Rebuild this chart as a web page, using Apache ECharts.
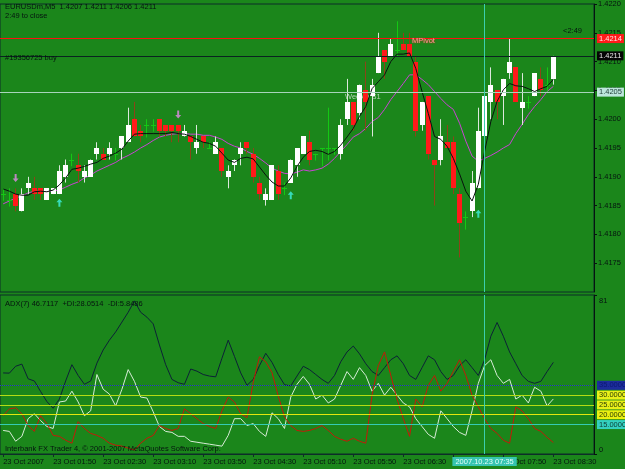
<!DOCTYPE html>
<html>
<head>
<meta charset="utf-8">
<style>
html, body { margin: 0; padding: 0; background: #1b861b; }
#chart { width: 625px; height: 469px; }
</style>
<script src="https://cdn.jsdelivr.net/npm/echarts@6.0.0/dist/echarts.min.js"></script>
</head>
<body>
<div id="chart"></div>
<script>
// EURUSDm M5 bars, 23 Oct 2007 (01:10 .. 08:30)
const openP = [1.4187, 1.4186, 1.4187, 1.4184, 1.4188, 1.4188, 1.4188, 1.4186, 1.4187, 1.4187,
  1.4190, 1.4193, 1.4192, 1.4190, 1.4190, 1.4194, 1.4194, 1.4194, 1.4194, 1.4195,
  1.4196, 1.4200, 1.4198, 1.4199, 1.4199, 1.4200, 1.4199, 1.4199, 1.4199, 1.4197,
  1.4197, 1.4195, 1.4197, 1.4195, 1.4194, 1.4195, 1.4190, 1.4192, 1.4194, 1.4196,
  1.4194, 1.4189, 1.4186, 1.4186, 1.4191, 1.4188, 1.4189, 1.4192, 1.4194, 1.4196,
  1.4194, 1.4195, 1.4195, 1.4195, 1.4194, 1.4200, 1.4203, 1.4201, 1.4205, 1.4204,
  1.4208, 1.4212, 1.4211, 1.4212, 1.4213, 1.4213, 1.4210, 1.4199, 1.4204, 1.4193,
  1.4193, 1.4196, 1.4196, 1.4187, 1.4183, 1.4184, 1.4188, 1.4197, 1.4203, 1.4205,
  1.4204, 1.4208, 1.4209, 1.4202, 1.4203, 1.4204, 1.4207, 1.4206, 1.4207];
const closeP = [1.4187, 1.4186, 1.4185, 1.4187, 1.4189, 1.4187, 1.4187, 1.4188, 1.4188, 1.4191,
  1.4192, 1.4193, 1.4191, 1.4191, 1.4193, 1.4195, 1.4193, 1.4195, 1.4194, 1.4197,
  1.4199, 1.4197, 1.4197, 1.4199, 1.4199, 1.4198, 1.4198, 1.4198, 1.4198, 1.4198,
  1.4196, 1.4196, 1.4196, 1.4195, 1.4196, 1.4191, 1.4191, 1.4193, 1.4195, 1.4195,
  1.4190, 1.4187, 1.4187, 1.4192, 1.4187, 1.4188, 1.4193, 1.4195, 1.4197, 1.4193,
  1.4194, 1.4195, 1.4195, 1.4195, 1.4199, 1.4203, 1.4199, 1.4206, 1.4203, 1.4206,
  1.4211, 1.4210, 1.4213, 1.4212, 1.4212, 1.4211, 1.4198, 1.4203, 1.4194, 1.4192,
  1.4197, 1.4195, 1.4188, 1.4182, 1.4183, 1.4189, 1.4198, 1.4204, 1.4206, 1.4203,
  1.4207, 1.4210, 1.4203, 1.4203, 1.4203, 1.4208, 1.4205, 1.4206, 1.4211];
const highP = [1.4188, 1.4188, 1.4188, 1.4188, 1.4190, 1.4190, 1.4188, 1.4188, 1.4188, 1.4192,
  1.4193, 1.4194, 1.4194, 1.4192, 1.4193, 1.4196, 1.4195, 1.4196, 1.4195, 1.4197,
  1.4202, 1.4203, 1.4199, 1.4200, 1.4200, 1.4200, 1.4199, 1.4199, 1.4199, 1.4199,
  1.4197, 1.4199, 1.4197, 1.4196, 1.4197, 1.4195, 1.4192, 1.4193, 1.4196, 1.4196,
  1.4195, 1.4190, 1.4188, 1.4192, 1.4192, 1.4189, 1.4193, 1.4195, 1.4197, 1.4198,
  1.4194, 1.4195, 1.4202, 1.4195, 1.4200, 1.4207, 1.4203, 1.4206, 1.4210, 1.4207,
  1.4215, 1.4212, 1.4214, 1.4217, 1.4215, 1.4215, 1.4211, 1.4203, 1.4204, 1.4193,
  1.4200, 1.4199, 1.4197, 1.4188, 1.4184, 1.4191, 1.4202, 1.4204, 1.4209, 1.4205,
  1.4207, 1.4214, 1.4209, 1.4208, 1.4204, 1.4208, 1.4209, 1.4209, 1.4211];
const lowP = [1.4186, 1.4185, 1.4184, 1.4184, 1.4187, 1.4186, 1.4186, 1.4186, 1.4187, 1.4187,
  1.4189, 1.4192, 1.4189, 1.4189, 1.4190, 1.4193, 1.4193, 1.4193, 1.4193, 1.4193,
  1.4196, 1.4197, 1.4196, 1.4197, 1.4198, 1.4197, 1.4197, 1.4196, 1.4196, 1.4197,
  1.4193, 1.4194, 1.4195, 1.4195, 1.4194, 1.4190, 1.4188, 1.4191, 1.4192, 1.4194,
  1.4189, 1.4186, 1.4185, 1.4186, 1.4186, 1.4187, 1.4189, 1.4190, 1.4194, 1.4192,
  1.4193, 1.4192, 1.4193, 1.4194, 1.4193, 1.4199, 1.4198, 1.4200, 1.4198, 1.4197,
  1.4208, 1.4207, 1.4211, 1.4211, 1.4212, 1.4211, 1.4197, 1.4198, 1.4193, 1.4185,
  1.4192, 1.4195, 1.4187, 1.4176, 1.4181, 1.4183, 1.4188, 1.4197, 1.4200, 1.4200,
  1.4199, 1.4207, 1.4203, 1.4199, 1.4202, 1.4204, 1.4204, 1.4205, 1.4206];

// moving averages as drawn on the chart (black fast, magenta slow)
const fastMA = [1.41879, 1.41875, 1.41870, 1.41868, 1.41868, 1.41874, 1.41875, 1.41874, 1.41877, 1.41886,
  1.41898, 1.41913, 1.41915, 1.41918, 1.41922, 1.41925, 1.41932, 1.41936, 1.41941, 1.41948,
  1.41962, 1.41974, 1.41975, 1.41975, 1.41975, 1.41975, 1.41975, 1.41977, 1.41975, 1.41974,
  1.41970, 1.41965, 1.41960, 1.41958, 1.41953, 1.41941, 1.41929, 1.41925, 1.41932, 1.41934,
  1.41931, 1.41917, 1.41903, 1.41891, 1.41884, 1.41884, 1.41898, 1.41918, 1.41934, 1.41944,
  1.41946, 1.41944, 1.41939, 1.41944, 1.41955, 1.41969, 1.41984, 1.42005, 1.42022, 1.42053,
  1.42065, 1.42077, 1.42100, 1.42113, 1.42113, 1.42115, 1.42088, 1.42048, 1.42010, 1.41970,
  1.41965, 1.41953, 1.41932, 1.41905, 1.41875, 1.41858, 1.41887, 1.41944, 1.41996, 1.42031,
  1.42051, 1.42062, 1.42058, 1.42057, 1.42053, 1.42048, 1.42053, 1.42057, 1.42069];
const slowMA = [1.41853, 1.41858, 1.41863, 1.41867, 1.41872, 1.41875, 1.41875, 1.41875, 1.41875, 1.41877,
  1.41882, 1.41887, 1.41891, 1.41898, 1.41903, 1.41910, 1.41915, 1.41920, 1.41925, 1.41932,
  1.41937, 1.41943, 1.41950, 1.41956, 1.41963, 1.41969, 1.41972, 1.41974, 1.41975, 1.41975,
  1.41974, 1.41974, 1.41972, 1.41972, 1.41969, 1.41965, 1.41958, 1.41953, 1.41950, 1.41944,
  1.41939, 1.41932, 1.41924, 1.41915, 1.41910, 1.41906, 1.41905, 1.41908, 1.41912, 1.41910,
  1.41912, 1.41915, 1.41922, 1.41932, 1.41944, 1.41956, 1.41969, 1.41975, 1.41984, 1.41996,
  1.42003, 1.42017, 1.42034, 1.42048, 1.42062, 1.42077, 1.42077, 1.42069, 1.42060, 1.42048,
  1.42036, 1.42025, 1.42017, 1.41993, 1.41962, 1.41936, 1.41927, 1.41932, 1.41937, 1.41943,
  1.41950, 1.41956, 1.41975, 1.41991, 1.42008, 1.42022, 1.42034, 1.42048, 1.42057];

// horizontal price lines: monthly pivot, bid / open order, weekly S1
const pivotPrice = 1.4214;
const bidPrice = 1.4211;
const weeklyS1 = 1.42047;

// signal arrows
const downArrowBar = [2, 28];
const downArrowPrice = [1.41898, 1.42008];
const upArrowBar = [9, 46, 76];
const upArrowPrice = [1.41855, 1.41868, 1.41836];

// ADX(7)
const adxVals = [41.3, 41.2, 44.7, 45.8, 38.3, 37.2, 31.8, 26.7, 23.3, 28,
  37.2, 45.5, 40, 35.5, 37.2, 46.3, 53, 58, 62.2, 67.2,
  72.2, 78, 72.2, 69.7, 66.3, 55.5, 45.5, 38, 36.3, 35.5,
  43.3, 42.2, 40.5, 39.7, 39.3, 48.8, 58, 49.7, 41.3, 35,
  38, 45, 51.3, 46.7, 40.5, 35.3, 34.7, 39.7, 44.7, 43,
  40.5, 38, 36, 40, 47, 52, 55, 51, 46, 42,
  40, 44, 48, 50, 46, 40, 38, 44, 50, 48,
  42, 38, 40, 45, 48, 44, 40, 48, 60, 67,
  60, 52, 46, 40, 37, 36, 37, 42, 46.7];
const plusDI = [12, 11.5, 6.5, 9, 18, 20.5, 17, 14, 13, 26.5,
  27, 32, 26.5, 19.5, 22, 40.5, 33, 30.5, 24.5, 33,
  43, 37, 29, 28.5, 21.5, 14, 11.5, 11, 9, 9,
  6.5, 6, 5.5, 5, 4.5, 4, 9.5, 18, 18, 14.5,
  15.5, 11.5, 9, 21, 18, 13, 29, 35.5, 39.5, 35.5,
  28, 30, 26, 28, 35, 42, 38, 44, 40, 32,
  36, 30, 34, 30, 26, 24, 18, 14, 10, 8,
  22, 18, 14, 11, 9.5, 22, 36, 45, 48, 40,
  36, 38, 28, 30, 26, 34, 32, 24.5, 28.05];
const minusDI = [19.5, 23, 23.5, 20.5, 14.5, 11.5, 19.5, 15.5, 9.5, 9,
  7, 5.5, 16.5, 13, 10.5, 9.5, 8, 5.5, 4.5, 4,
  3, 2, 5.5, 8, 9.5, 14.5, 13, 12, 13, 23,
  20.5, 18, 15.5, 14, 13, 22, 29, 26.5, 20.5, 18.5,
  36.5, 49.5, 47, 41.5, 29.5, 19, 14.5, 12, 11.5, 12,
  13, 14.5, 12, 9, 7.5, 6.5, 8, 6.5, 5.5, 30,
  45, 52, 40, 28, 18, 9, 28, 24, 35, 40,
  32, 36, 42, 48, 40, 30, 24, 18, 13, 10.5,
  7, 5.5, 24, 22, 18, 13, 11.5, 8.5, 5.85];
const adxLevels = [35, 30, 25, 20, 15];

const tickLabels = ['23 Oct 2007', '23 Oct 01:50', '23 Oct 02:30', '23 Oct 03:10', '23 Oct 03:50',
  '23 Oct 04:30', '23 Oct 05:10', '23 Oct 05:50', '23 Oct 06:30', '23 Oct 07:10',
  '23 Oct 07:50', '23 Oct 08:30'];

// 89 bars plus empty slots for the chart shift on the right
const slots = [];
for (let i = 0; i < 95; i++) slots.push(String(i));

const FONT = 'Liberation Sans';
const FRAME = '#0d2d28';
const INK = '#061410';
const CURSOR_BAR = 77;

const candles = openP.map((o, i) => [i, o, closeP[i], lowP[i], highP[i]]);

function drawCandle(params, api) {
  const i = api.value(0);
  const o = api.value(1), c = api.value(2), lo = api.value(3), hi = api.value(4);
  const pO = api.coord([i, o]);
  const pC = api.coord([i, c]);
  const pH = api.coord([i, hi]);
  const pL = api.coord([i, lo]);
  const left = Math.round(pO[0] - 2.5);
  const cx = left + 2.5;
  const kids = [];
  if (o === c) {
    const y = Math.round(pO[1]) + 0.5;
    kids.push({ type: 'line', shape: { x1: cx, y1: pH[1], x2: cx, y2: pL[1] + 1 }, style: { stroke: '#14c814', lineWidth: 1 } });
    kids.push({ type: 'line', shape: { x1: left, y1: y, x2: left + 5, y2: y }, style: { stroke: '#14c814', lineWidth: 1 } });
  } else {
    const up = c > o;
    const top = Math.round(Math.min(pO[1], pC[1]));
    const bot = Math.round(Math.max(pO[1], pC[1]));
    kids.push({ type: 'line', shape: { x1: cx, y1: pH[1], x2: cx, y2: pL[1] }, style: { stroke: up ? '#dce8dc' : '#8c4418', lineWidth: 1 } });
    kids.push({ type: 'rect', shape: { x: left, y: top, width: 5, height: Math.max(1, bot - top) }, style: { fill: up ? '#ffffff' : '#ff1a1a' } });
  }
  return { type: 'group', children: kids };
}

function boxLabel(text, bg, fg) {
  return { show: true, position: 'end', distance: 3, formatter: text, backgroundColor: bg, color: fg,
    padding: [1, 2, 0, 2], fontSize: 7.5, fontFamily: FONT };
}

const levelStyle = {
  35: { line: '#2830d8', type: 'dotted', bg: '#1c2c9c', fg: '#0c1a70' },
  30: { line: '#b4dc14', type: 'solid', bg: '#e8f018', fg: '#2c3c08' },
  25: { line: '#b4dc14', type: 'solid', bg: '#e8f018', fg: '#2c3c08' },
  20: { line: '#e2e80e', type: 'solid', bg: '#eaf010', fg: '#2c3c08' },
  15: { line: '#34ccb4', type: 'solid', bg: '#34d0c0', fg: '#0c3c34' }
};

const chart = echarts.init(document.getElementById('chart'));

const option = {
  animation: false,
  backgroundColor: '#1b861b',
  textStyle: { fontFamily: FONT, fontSize: 7.5 },
  grid: [
    { left: 0, right: 31, top: 2, height: 290, show: true, borderColor: FRAME, borderWidth: 1 },
    { left: 0, right: 31, top: 295, bottom: 15, show: true, borderColor: FRAME, borderWidth: 1 }
  ],
  xAxis: [
    { type: 'category', gridIndex: 0, data: slots, boundaryGap: true,
      axisLine: { show: false }, axisTick: { show: false }, axisLabel: { show: false }, splitLine: { show: false } },
    { type: 'category', gridIndex: 1, data: slots, boundaryGap: true,
      axisLine: { show: true, lineStyle: { color: FRAME } },
      axisTick: { show: true, interval: 7, alignWithLabel: true, length: 3, lineStyle: { color: FRAME } },
      axisLabel: { interval: 7, align: 'left', margin: 4, color: INK, fontSize: 7.5, fontFamily: FONT,
        formatter: (v) => tickLabels[Number(v) / 8] || '' },
      splitLine: { show: false } }
  ],
  yAxis: [
    { type: 'value', gridIndex: 0, position: 'right', min: 1.417, max: 1.422, interval: 0.0005,
      axisLine: { show: true, lineStyle: { color: INK } },
      axisTick: { show: true, length: 3, lineStyle: { color: INK } },
      splitLine: { show: false },
      axisLabel: { showMinLabel: false, margin: 4, color: INK, fontSize: 7.5, fontFamily: FONT,
        formatter: (v) => v.toFixed(4) } },
    { type: 'value', gridIndex: 1, position: 'right', min: 0, max: 81, interval: 81,
      axisLine: { show: true, lineStyle: { color: INK } },
      axisTick: { show: true, length: 3, lineStyle: { color: INK } },
      splitLine: { show: false },
      axisLabel: { margin: 5, color: INK, fontSize: 7.5, fontFamily: FONT,
        formatter: (v) => (v > 40 ? '{t|' + v + '}' : '{b|' + v + '}'),
        rich: { t: { padding: [12, 0, 0, 0], fontSize: 7.5 }, b: { padding: [0, 0, 8, 0], fontSize: 7.5 } } } }
  ],
  series: [
    {
      name: 'slowMA', type: 'line', xAxisIndex: 0, yAxisIndex: 0, z: 1,
      data: slowMA, showSymbol: false, silent: true,
      lineStyle: { color: '#c844d4', width: 1 },
      markLine: {
        silent: true, symbol: 'none', precision: 5,
        data: [
          { yAxis: pivotPrice, lineStyle: { color: '#ff1010', width: 1, type: 'solid' }, label: boxLabel('1.4214', '#ff1a1a', '#ffe8e8') },
          { yAxis: bidPrice, lineStyle: { color: '#0a2420', width: 1, type: 'solid' }, label: boxLabel('1.4211', '#050505', '#e8e8e8') },
          { yAxis: weeklyS1, lineStyle: { color: '#a8d4bc', width: 1, type: 'solid' }, label: boxLabel('1.4205', '#bce6dc', '#1c3c34') },
          { xAxis: String(CURSOR_BAR), lineStyle: { color: '#3ccfae', width: 1, type: 'solid' }, label: { show: false } }
        ]
      }
    },
    {
      name: 'candles', type: 'custom', xAxisIndex: 0, yAxisIndex: 0, z: 2,
      renderItem: drawCandle, data: candles, clip: true,
      encode: { x: 0, y: [1, 2, 3, 4] }
    },
    {
      name: 'fastMA', type: 'line', xAxisIndex: 0, yAxisIndex: 0, z: 3,
      data: fastMA, showSymbol: false, silent: true,
      lineStyle: { color: '#08120e', width: 1 }
    },
    {
      name: 'sellArrows', type: 'scatter', xAxisIndex: 0, yAxisIndex: 0, z: 4, silent: true,
      data: downArrowBar.map((b, i) => [b, downArrowPrice[i]]),
      symbol: 'path://M2,0H4V5H6L3,9L0,5H2Z', symbolSize: [6, 8],
      itemStyle: { color: '#e48ae8' }
    },
    {
      name: 'buyArrows', type: 'scatter', xAxisIndex: 0, yAxisIndex: 0, z: 4, silent: true,
      data: upArrowBar.map((b, i) => [b, upArrowPrice[i]]),
      symbol: 'path://M3,0L6,4H4V9H2V4H0Z', symbolSize: [6, 8],
      itemStyle: { color: '#3ef0e0' }
    },
    {
      name: 'ADX', type: 'line', xAxisIndex: 1, yAxisIndex: 1, z: 3,
      data: adxVals, showSymbol: false, silent: true,
      lineStyle: { color: '#0c2236', width: 1 },
      markLine: {
        silent: true, symbol: 'none', precision: 4,
        data: adxLevels.map((lv) => ({
          yAxis: lv,
          lineStyle: { color: levelStyle[lv].line, width: 1, type: levelStyle[lv].type },
          label: boxLabel(lv.toFixed(4), levelStyle[lv].bg, levelStyle[lv].fg)
        })).concat([{
          xAxis: String(CURSOR_BAR),
          lineStyle: { color: '#3ccfae', width: 1, type: 'solid' },
          label: { show: true, position: 'start', distance: 3, formatter: '2007.10.23 07:35',
            backgroundColor: '#36c4b0', color: '#e4fff8', padding: [1, 3, 0, 3], fontSize: 7.5, fontFamily: FONT }
        }])
      }
    },
    {
      name: '+DI', type: 'line', xAxisIndex: 1, yAxisIndex: 1, z: 4,
      data: plusDI, showSymbol: false, silent: true,
      lineStyle: { color: '#d6ecd6', width: 1 }
    },
    {
      name: '-DI', type: 'line', xAxisIndex: 1, yAxisIndex: 1, z: 4,
      data: minusDI, showSymbol: false, silent: true,
      lineStyle: { color: '#c41a08', width: 1 }
    }
  ],
  graphic: [
    { type: 'text', left: 5, top: 3, z: 10, style: { text: 'EURUSDm,M5  1.4207 1.4211 1.4206 1.4211', fill: INK, font: '7.5px "Liberation Sans"' } },
    { type: 'text', left: 5, top: 12, z: 10, style: { text: '2:49 to close', fill: INK, font: '7.5px "Liberation Sans"' } },
    { type: 'text', left: 5, top: 54, z: 10, style: { text: '#19356725 buy', fill: INK, font: '7.5px "Liberation Sans"' } },
    { type: 'text', left: 563, top: 27, z: 10, style: { text: '<2:49', fill: INK, font: '7.5px "Liberation Sans"' } },
    { type: 'text', left: 412, top: 37, z: 10, style: { text: 'MPivot', fill: '#ff9a9a', font: '7.5px "Liberation Sans"', textShadowColor: '#ff2020', textShadowBlur: 2 } },
    { type: 'text', left: 345, top: 93, z: 1, style: { text: 'Weekly S1', fill: '#b8d4b8', font: '7.5px "Liberation Sans"' } },
    { type: 'text', left: 5, top: 300, z: 10, style: { text: 'ADX(7) 46.7117  +DI:28.0514  -DI:5.8486', fill: INK, font: '7.5px "Liberation Sans"' } },
    { type: 'text', left: 5, top: 445, z: 10, style: { text: 'Interbank FX Trader 4, \u00a9 2001-2007 MetaQuotes Software Corp.', fill: INK, font: '7.5px "Liberation Sans"' } }
  ]
};

chart.setOption(option);
</script>
</body>
</html>
